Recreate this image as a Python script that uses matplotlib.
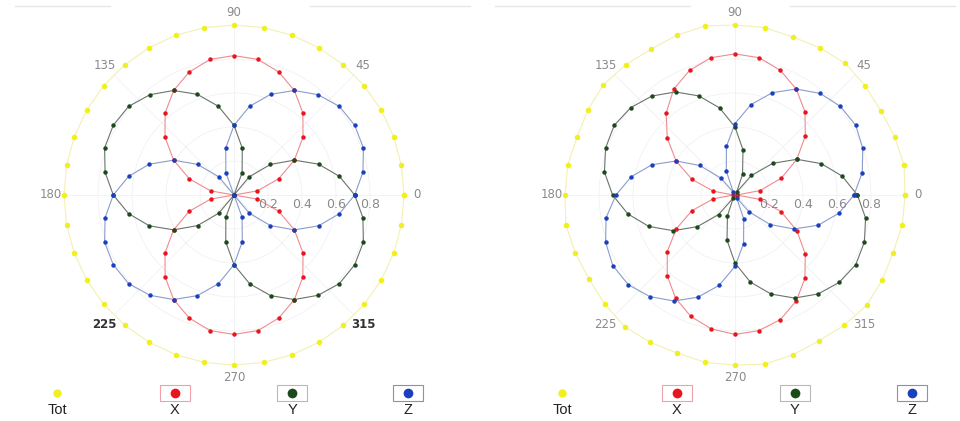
import numpy as np
import matplotlib
matplotlib.use("Agg")
import matplotlib.pyplot as plt
from matplotlib.lines import Line2D
from matplotlib.patches import Rectangle

FONTSIZE = 8.5

# sample angles (degrees), every 10 degrees
angles = np.arange(0, 360, 10)

# left panel: calculated pattern
tot_l = [1.00] * 36
x_l = [0.00, 0.14, 0.28, 0.41, 0.53, 0.63, 0.71, 0.77, 0.81, 0.82, 0.81, 0.77,
       0.71, 0.63, 0.53, 0.41, 0.28, 0.14, 0.00, 0.14, 0.28, 0.41, 0.53, 0.63,
       0.71, 0.77, 0.81, 0.82, 0.81, 0.77, 0.71, 0.63, 0.53, 0.41, 0.28, 0.14]
y_l = [0.71, 0.63, 0.53, 0.41, 0.28, 0.14, 0.00, 0.14, 0.28, 0.41, 0.53, 0.63,
       0.71, 0.77, 0.81, 0.82, 0.81, 0.77, 0.71, 0.63, 0.53, 0.41, 0.28, 0.14,
       0.00, 0.14, 0.28, 0.41, 0.53, 0.63, 0.71, 0.77, 0.81, 0.82, 0.81, 0.77]
z_l = [0.71, 0.77, 0.81, 0.82, 0.81, 0.77, 0.71, 0.63, 0.53, 0.41, 0.28, 0.14,
       0.00, 0.14, 0.28, 0.41, 0.53, 0.63, 0.71, 0.77, 0.81, 0.82, 0.81, 0.77,
       0.71, 0.63, 0.53, 0.41, 0.28, 0.14, 0.00, 0.14, 0.28, 0.41, 0.53, 0.63]

# right panel: measured pattern
tot_r = [1.00, 1.01, 1.00, 0.99, 1.00, 1.01, 1.00, 0.99, 1.00, 1.00, 1.01, 1.00,
         0.99, 1.00, 1.01, 1.00, 0.99, 1.00, 1.00, 1.01, 1.00, 0.99, 1.00, 1.01,
         1.00, 0.99, 1.00, 1.00, 1.01, 1.00, 0.99, 1.00, 1.01, 1.00, 0.99, 1.00]
x_r = [0.01, 0.15, 0.29, 0.42, 0.54, 0.64, 0.72, 0.78, 0.82, 0.83, 0.82, 0.78,
       0.72, 0.63, 0.52, 0.40, 0.27, 0.13, 0.01, 0.13, 0.27, 0.40, 0.52, 0.62,
       0.70, 0.76, 0.80, 0.82, 0.81, 0.78, 0.72, 0.64, 0.54, 0.42, 0.29, 0.15]
y_r = [0.72, 0.64, 0.54, 0.42, 0.29, 0.15, 0.02, 0.13, 0.27, 0.40, 0.52, 0.62,
       0.70, 0.76, 0.80, 0.82, 0.81, 0.78, 0.72, 0.64, 0.54, 0.42, 0.29, 0.15,
       0.02, 0.13, 0.27, 0.40, 0.52, 0.62, 0.70, 0.76, 0.80, 0.82, 0.81, 0.78]
z_r = [0.70, 0.76, 0.80, 0.82, 0.81, 0.78, 0.72, 0.64, 0.54, 0.42, 0.29, 0.15,
       0.02, 0.13, 0.27, 0.40, 0.52, 0.62, 0.70, 0.77, 0.81, 0.83, 0.82, 0.78,
       0.72, 0.64, 0.54, 0.42, 0.29, 0.15, 0.02, 0.13, 0.27, 0.40, 0.52, 0.62]

theta_ticks = [0, 45, 90, 135, 180, 225, 270, 315]
theta_labels = ['0', '45', '90', '135', '180', '225', '270', '315']
r_ticks = [0.2, 0.4, 0.6, 0.8]
r_labels = ['0.2', '0.4', '0.6', '0.8']

series_names = ['Tot', 'X', 'Y', 'Z']
dot_colors = ['#f0f020', '#e8141e', '#1d4a1d', '#1a3fbf']
line_colors = ['#f4f0b0', '#f08a90', '#6a746a', '#8a9ccc']
box_colors = [None, '#f0a0a8', '#b8b8b8', '#8090c8']

W, H = 960, 421
fig = plt.figure(figsize=(W / 100, H / 100), dpi=100)


def polar_panel(cx, data, bold_labels):
    rad = 170
    cy = 195
    ax = fig.add_axes([(cx - rad) / W, (H - cy - rad) / H, 2 * rad / W, 2 * rad / H],
                      projection='polar')
    ax.set_ylim(0, 1.0)
    ax.spines['polar'].set_visible(False)
    ax.set_thetagrids(theta_ticks, [''] * len(theta_ticks))
    ax.set_rgrids(r_ticks, [''] * len(r_ticks))
    ax.grid(color='#efefef', linewidth=0.5)
    # angle labels just outside the ring
    for t, lab in zip(theta_ticks, theta_labels):
        bold = lab in bold_labels
        ax.text(np.deg2rad(t), 1.075, lab, ha='center', va='center',
                fontsize=FONTSIZE, color='#333333' if bold else '#8a8a8a',
                fontweight='bold' if bold else 'normal', clip_on=False)
    # radius labels slightly below the 0 axis
    for r, lab in zip(r_ticks, r_labels):
        ax.annotate(lab, (0, r), xytext=(0, -10), textcoords='offset pixels',
                    ha='center', va='center', fontsize=9, color='#8a8a8a')
    th = np.deg2rad(np.append(angles, angles[0]))
    for k, vals in enumerate(data):
        r = np.append(vals, vals[0])
        ax.plot(th, r, '-', color=line_colors[k], linewidth=0.8, zorder=2, clip_on=False)
        ms = 4 if k == 0 else 3.2
        ax.plot(th, r, 'o', color=dot_colors[k], markersize=ms, markeredgewidth=0,
                zorder=3, clip_on=False)
    return ax


polar_panel(234, [tot_l, x_l, y_l, z_l], ['225', '315'])
polar_panel(735, [tot_r, x_r, y_r, z_r], [])

# legend rows under each panel
legend_x = [[57, 175, 292, 408], [562, 677, 795, 912]]
for row in legend_x:
    for k, px in enumerate(row):
        fx, fy = px / W, (H - 393) / H
        if box_colors[k] is not None:
            fig.add_artist(Rectangle(((px - 15) / W, (H - 401) / H), 30 / W, 16 / H,
                                     transform=fig.transFigure, fill=False,
                                     edgecolor=box_colors[k], linewidth=0.8))
        fig.add_artist(Line2D([fx], [fy], marker='o', color=dot_colors[k],
                              markersize=7 if k else 6, markeredgewidth=0,
                              transform=fig.transFigure))
        fig.text(fx, (H - 410) / H, series_names[k], ha='center', va='center',
                 fontsize=10.5, color='#222222', family='Liberation Sans')

# faint frame lines at the top
for x0, x1 in [(15, 110), (310, 470), (495, 690), (790, 955)]:
    fig.add_artist(Line2D([x0 / W, x1 / W], [(H - 6) / H] * 2, color='#e6e6e6',
                          linewidth=1, transform=fig.transFigure))

fig.savefig('out.png', dpi=100)
